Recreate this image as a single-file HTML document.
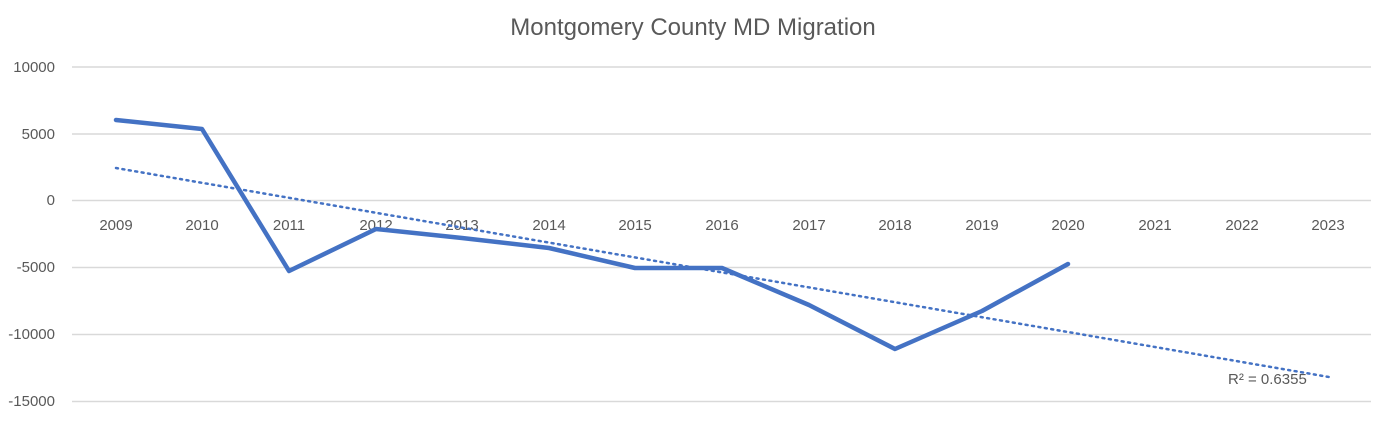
<!DOCTYPE html>
<html><head><style>body{margin:0;background:#fff}</style></head><body>
<svg width="1387" height="421" xmlns="http://www.w3.org/2000/svg" font-family="Liberation Sans, sans-serif">
<rect width="1387" height="421" fill="#fff"/>
<text x="693" y="35" text-anchor="middle" font-size="24" fill="#595959">Montgomery County MD Migration</text>
<g stroke="#d9d9d9" stroke-width="1.5">
<line x1="72" x2="1371" y1="67" y2="67"/><line x1="72" x2="1371" y1="134" y2="134"/>
<line x1="72" x2="1371" y1="200.5" y2="200.5"/><line x1="72" x2="1371" y1="267.5" y2="267.5"/>
<line x1="72" x2="1371" y1="334.5" y2="334.5"/><line x1="72" x2="1371" y1="401.5" y2="401.5"/>
</g>
<g font-size="15" fill="#595959" text-anchor="end">
<text x="55" y="72">10000</text><text x="55" y="139">5000</text><text x="55" y="205">0</text>
<text x="55" y="272">-5000</text><text x="55" y="339">-10000</text><text x="55" y="406">-15000</text>
</g>
<g font-size="15" fill="#595959" text-anchor="middle">
<text x="116" y="230">2009</text><text x="202" y="230">2010</text><text x="289" y="230">2011</text>
<text x="376" y="230">2012</text><text x="462" y="230">2013</text><text x="549" y="230">2014</text>
<text x="635" y="230">2015</text><text x="722" y="230">2016</text><text x="809" y="230">2017</text>
<text x="895" y="230">2018</text><text x="982" y="230">2019</text><text x="1068" y="230">2020</text>
<text x="1155" y="230">2021</text><text x="1242" y="230">2022</text><text x="1328" y="230">2023</text>
</g>
<polyline fill="none" stroke="#4472c4" stroke-width="4.5" stroke-linejoin="round" stroke-linecap="round"
points="116,120 202,129 289,271 376,229 462,238 549,248 635,268 722,268 809,305 895,349 982,311 1068,264"/>
<line x1="116" y1="168" x2="1329" y2="377" stroke="#4472c4" stroke-width="2.5" stroke-dasharray="2,4.5" stroke-linecap="round"/>
<text x="1228" y="384" font-size="15" fill="#595959">R² = 0.6355</text>
</svg>
</body></html>
